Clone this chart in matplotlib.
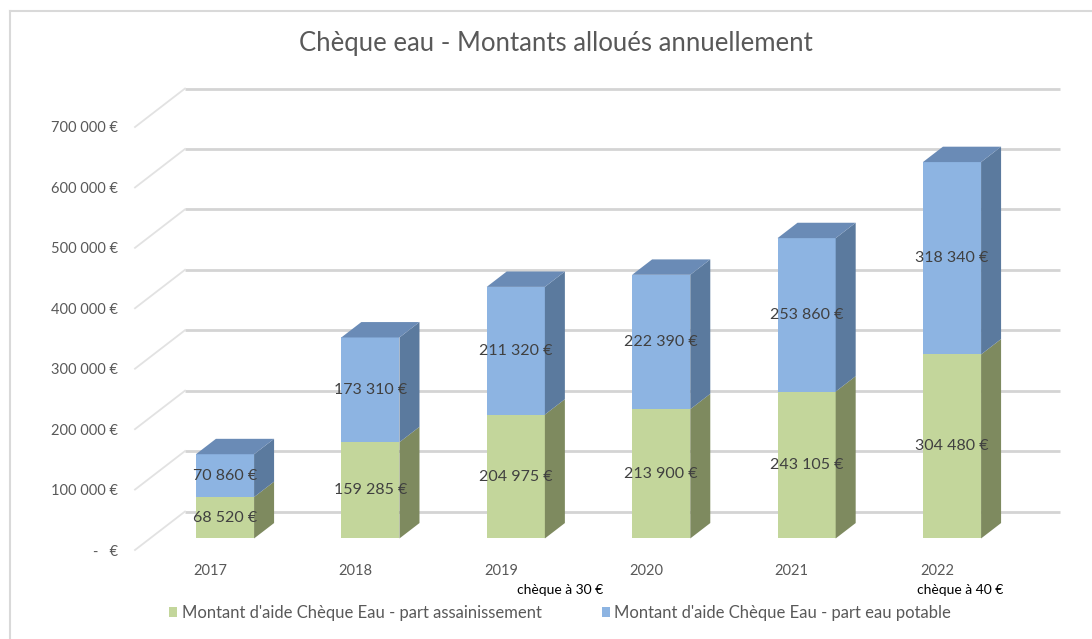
import numpy as np
import matplotlib
matplotlib.use("Agg")
import matplotlib.pyplot as plt
from matplotlib.patches import Polygon
from matplotlib.lines import Line2D

plt.rcParams['font.family'] = ['Lato', 'DejaVu Sans']

# --- data -------------------------------------------------------------
years = ["2017", "2018", "2019", "2020", "2021", "2022"]
assainissement = [68520, 159285, 204975, 213900, 243105, 304480]
eau_potable = [70860, 173310, 211320, 222390, 253860, 318340]
y_ticks = [0, 100000, 200000, 300000, 400000, 500000, 600000, 700000]
notes = {"2019": "chèque à 30 €", "2022": "chèque à 40 €"}
series_names = ["Montant d'aide Chèque Eau - part assainissement",
                "Montant d'aide Chèque Eau - part eau potable"]
title = "Chèque eau - Montants alloués annuellement"

# --- styling ----------------------------------------------------------
GREEN, GREEN_SIDE = "#C3D69B", "#7E8A5F"
BLUE, BLUE_SIDE, BLUE_TOP = "#8DB4E2", "#5B7A9E", "#6A8BB6"
TXT = "#595959"
GRID = "#d4d4d4"

W, H = 1092, 639
fig = plt.figure(figsize=(W / 100, H / 100), dpi=100)


def fx(px):
    return px / W


def fy(py):
    return 1 - py / H


# front plane of the floor: left wall edge, right end, zero line, 700k line
L, R, B, T = 135, 1060, 550, 127
CAT0, STEP = 210, 145.4
ax = fig.add_axes([fx(L), fy(B), (R - L) / W, (B - T) / H])
xlim = ((L - CAT0) / STEP, (R - CAT0) / STEP)
ax.set_xlim(*xlim)
ax.set_ylim(0, 700000)
px_x = (R - L) / (xlim[1] - xlim[0])
px_y = (B - T) / 700000

# oblique depth projection (pixels for full depth)
DEPTH_DX, DEPTH_DY = 50, 38.5


def off(d):
    return d * DEPTH_DX / px_x, d * DEPTH_DY / px_y


ox1, oy1 = off(1.0)
for v in y_ticks:
    # back wall gridline
    ax.plot([xlim[0] + ox1, xlim[1]], [v + oy1, v + oy1], color=GRID, lw=2.0,
            zorder=1, clip_on=False, solid_capstyle="butt")
    # side wall gridline
    ax.plot([xlim[0], xlim[0] + ox1], [v, v + oy1], color="#e2e2e2", lw=1.3,
            zorder=1, clip_on=False)

# bars: front face at depth 0.3, back at 0.7
xs = np.arange(len(years))
g = np.array(assainissement)
b = np.array(eau_potable)
BW = 0.4
fo_x, fo_y = off(0.3)
dx, dy = off(0.4)

bars_g = ax.bar(xs + fo_x, g, bottom=fo_y, width=BW, color=GREEN, zorder=3,
                clip_on=False, label=series_names[0])
bars_b = ax.bar(xs + fo_x, b, bottom=g + fo_y, width=BW, color=BLUE, zorder=3,
                clip_on=False, label=series_names[1])

for i in xs:
    xr = i + fo_x + BW / 2
    xl = i + fo_x - BW / 2
    for y0, y1, col in ((0, g[i], GREEN_SIDE), (g[i], g[i] + b[i], BLUE_SIDE)):
        ax.add_patch(Polygon([(xr, y0 + fo_y), (xr + dx, y0 + fo_y + dy),
                              (xr + dx, y1 + fo_y + dy), (xr, y1 + fo_y)],
                             closed=True, facecolor=col, edgecolor="none",
                             zorder=3, clip_on=False))
    top = g[i] + b[i] + fo_y
    ax.add_patch(Polygon([(xl, top), (xr, top), (xr + dx, top + dy), (xl + dx, top + dy)],
                         closed=True, facecolor=BLUE_TOP, edgecolor="none",
                         zorder=3, clip_on=False))


def euro(v):
    return f"{v:,.0f} €".replace(",", " ")


for i in xs:
    ax.text(i + fo_x, fo_y + g[i] / 2, euro(g[i]), ha="center", va="center",
            fontsize=11.5, color="#404040", zorder=5)
    ax.text(i + fo_x, fo_y + g[i] + b[i] / 2, euro(b[i]), ha="center", va="center",
            fontsize=11.5, color="#404040", zorder=5)

# axes ticks
ax.set_yticks(y_ticks)
ax.set_yticklabels([euro(v) if v else "-   €" for v in y_ticks])
ax.set_xticks(xs)
ax.set_xticklabels(years)
ax.tick_params(axis="y", length=0, pad=12, labelsize=10.5, labelcolor=TXT)
ax.tick_params(axis="x", length=0, pad=10, labelsize=10.5, labelcolor=TXT)
for s in ax.spines.values():
    s.set_visible(False)
ax.patch.set_alpha(0)

# annotations under some years
fig.text(fx(560), fy(590), notes["2019"], ha="center", va="center", fontsize=10, color="black")
fig.text(fx(960), fy(590), notes["2022"], ha="center", va="center", fontsize=10, color="black")

fig.text(fx(556), fy(43), title, ha="center", va="center", fontsize=18.5, color=TXT)

fig.legend(handles=[bars_g, bars_b], labels=series_names, loc="center",
           bbox_to_anchor=(fx(560), fy(613)), ncol=2, frameon=False, fontsize=12,
           handlelength=0.5, handleheight=0.5, handletextpad=0.25, columnspacing=3.6,
           labelcolor=TXT)

# chart frame (top and left edges)
fig.add_artist(Line2D([fx(10), 1], [fy(10.5), fy(10.5)], color="#d9d9d9", lw=1.5,
                      transform=fig.transFigure))
fig.add_artist(Line2D([fx(10), fx(10)], [fy(10.5), 0], color="#d9d9d9", lw=1.5,
                      transform=fig.transFigure))

fig.savefig("out.png", dpi=100)
